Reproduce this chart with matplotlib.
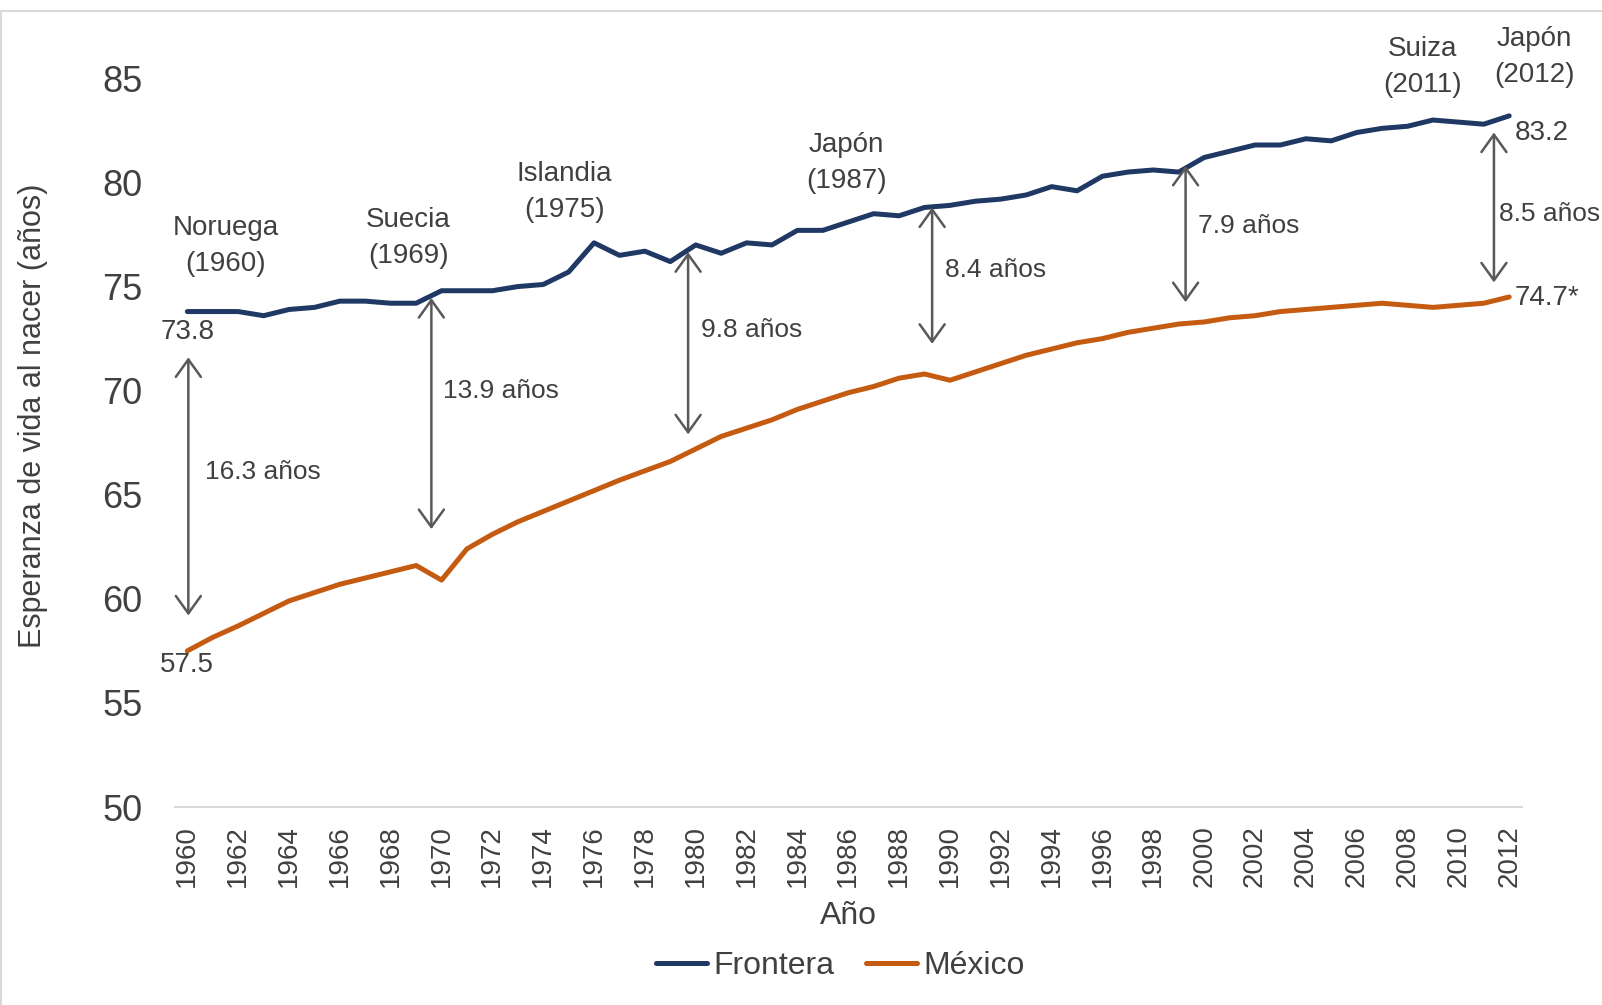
import matplotlib
matplotlib.use("Agg")
import matplotlib.pyplot as plt
from matplotlib.patches import Rectangle

plt.rcParams['font.family'] = ['Liberation Sans Narrow', 'Liberation Sans', 'DejaVu Sans']

years = list(range(1960, 2013))
frontera = [73.8, 73.8, 73.8, 73.6, 73.9, 74.0, 74.3, 74.3, 74.2, 74.2,
            74.8, 74.8, 74.8, 75.0, 75.1, 75.7, 77.1, 76.5, 76.7, 76.2,
            77.0, 76.6, 77.1, 77.0, 77.7, 77.7, 78.1, 78.5, 78.4, 78.8,
            78.9, 79.1, 79.2, 79.4, 79.8, 79.6, 80.3, 80.5, 80.6, 80.5,
            81.2, 81.5, 81.8, 81.8, 82.1, 82.0, 82.4, 82.6, 82.7, 83.0,
            82.9, 82.8, 83.2]
mexico = [57.5, 58.15, 58.7, 59.3, 59.9, 60.3, 60.7, 61.0, 61.3, 61.6,
          60.9, 62.4, 63.1, 63.7, 64.2, 64.7, 65.2, 65.7, 66.15, 66.6,
          67.2, 67.8, 68.2, 68.6, 69.1, 69.5, 69.9, 70.2, 70.6, 70.8,
          70.5, 70.9, 71.3, 71.7, 72.0, 72.3, 72.5, 72.8, 73.0, 73.2,
          73.3, 73.5, 73.6, 73.8, 73.9, 74.0, 74.1, 74.2, 74.1, 74.0,
          74.1, 74.2, 74.5]

# paises lideres (etiquetas arriba de la linea)
lider_txt = ["Noruega\n(1960)", "Suecia\n(1969)", "Islandia\n(1975)",
             "Japón\n(1987)", "Suiza\n(2011)", "Japón\n(2012)"]
lider_x = [1961.5, 1968.7, 1974.83, 1985.92, 2008.6, 2013.0]
lider_y = [76.95, 77.35, 79.55, 80.95, 85.55, 86.05]

# brechas
brecha_txt = ["16.3 años", "13.9 años", "9.8 años", "8.4 años", "7.9 años", "8.5 años"]
brecha_x = [1960.04, 1969.6, 1979.7, 1989.3, 1999.27, 2011.4]
brecha_top = [71.6, 74.45, 76.65, 78.8, 80.8, 82.4]
brecha_bot = [59.2, 63.35, 67.9, 72.25, 74.25, 75.2]
brecha_tx = [1960.68, 1970.05, 1980.2, 1989.8, 1999.75, 2011.6]
brecha_ty = [66.1, 70.0, 72.9, 75.8, 77.9, 78.5]

gris = '#404040'
flecha = '#595959'

fig = plt.figure(figsize=(16.02, 10.05), dpi=100)
ax = fig.add_axes([0.109, 0.197, 0.841, 0.725])

ax.plot(years, frontera, color='#1F3864', lw=3.6, label='Frontera', solid_capstyle='round')
ax.plot(years, mexico, color='#C55A11', lw=3.6, label='México', solid_capstyle='round')

for x0, y1, y2 in zip(brecha_x, brecha_top, brecha_bot):
    ax.annotate('', xy=(x0, y1), xytext=(x0, y2),
                arrowprops=dict(arrowstyle='<->,head_length=1.25,head_width=0.9',
                                color=flecha, lw=1.8, shrinkA=0, shrinkB=0,
                                mutation_scale=10))
for tx, ty, t in zip(brecha_tx, brecha_ty, brecha_txt):
    ax.text(tx, ty, t, fontsize=19, color=gris, va='center', ha='left')

for x0, y0, t in zip(lider_x, lider_y, lider_txt):
    ax.text(x0, y0, t, fontsize=20, color=gris, ha='center', va='center', linespacing=1.5)

ax.text(years[0], frontera[0] - 1.0, f"{frontera[0]}", fontsize=20, color=gris, ha='center', va='center')
ax.text(years[0], mexico[0] - 0.7, f"{mexico[0]}", fontsize=20, color=gris, ha='center', va='center')
ax.text(years[-1] + 0.2, 82.4, "83.2", fontsize=20, color=gris, ha='left', va='center')
ax.text(years[-1] + 0.2, 74.45, "74.7*", fontsize=20, color=gris, ha='left', va='center')

ax.set_xlim(1959.5, 2012.5)
ax.set_ylim(50, 85)
ax.set_yticks(range(50, 86, 5))
ax.set_xticks(years[::2])
ax.set_xticklabels([str(y) for y in years[::2]], rotation=90)
ax.tick_params(axis='y', length=0, pad=23, labelsize=26, labelcolor=gris)
ax.tick_params(axis='x', length=0, pad=13, labelsize=20, labelcolor=gris)

for s in ['top', 'right', 'left']:
    ax.spines[s].set_visible(False)
ax.spines['bottom'].set_color('#d9d9d9')
ax.spines['bottom'].set_linewidth(1.5)

ax.set_xlabel('Año', fontsize=23, color=gris, labelpad=10)
ax.set_ylabel('Esperanza de vida al nacer (años)', fontsize=22, color=gris)
ax.yaxis.set_label_coords(-0.094, 0.537)

ax.legend(loc='center', bbox_to_anchor=(0.494, -0.218), ncol=2, frameon=False,
          fontsize=23, handlelength=1.6, handletextpad=0.2, columnspacing=1.0,
          labelcolor=gris)

fig.patches.append(Rectangle((0.0006, -0.05), 1.2, 1.05 - 11 / 1005, transform=fig.transFigure,
                             fill=False, edgecolor='#d9d9d9', lw=1.5))

fig.savefig('out.png', dpi=100)
